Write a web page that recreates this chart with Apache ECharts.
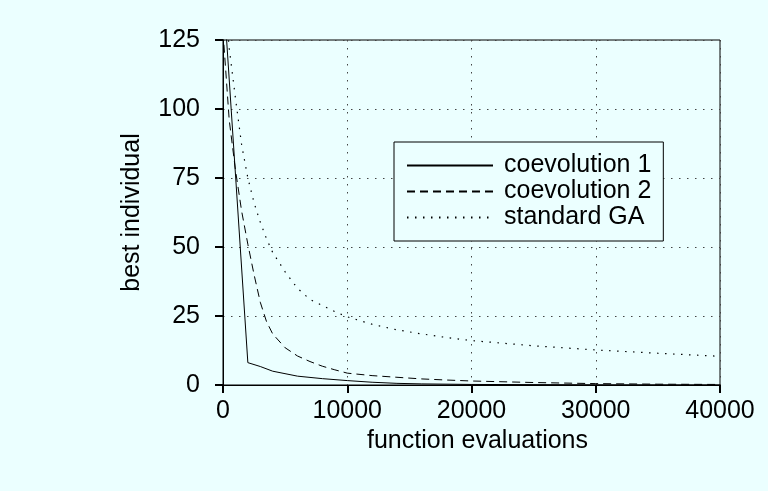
<!DOCTYPE html>
<html>
<head>
<meta charset="utf-8">
<script src="https://cdn.jsdelivr.net/npm/echarts@6/dist/echarts.min.js"></script>
<style>
  html, body { margin: 0; padding: 0; background: #ebffff; }
  #chart { width: 768px; height: 491px; }
</style>
</head>
<body>
<div id="chart"></div>
<script>
// function evaluations (x) and best individual (y)
const coevo1X = [0, 2000, 3000, 4000, 6000, 8000, 10000, 12000, 14000, 16000, 20000, 30000, 40000];
const coevo1Y = [145, 8.1, 6.7, 5.0, 3.2, 2.3, 1.6, 1.0, 0.6, 0.4, 0.2, 0.05, 0];

const sampleX = [0, 500, 1000, 1500, 2000, 2500, 3000, 3500, 4000, 5000, 6000, 7000, 8000, 9000, 10000,
  12000, 14000, 16000, 18000, 20000, 25000, 30000, 35000, 40000];
const coevo2Y = [128, 96, 78, 63, 51, 40, 30, 23, 18.5, 13.5, 10.5, 8.5, 6.8, 5.5, 4.3,
  3.4, 2.8, 2.2, 1.8, 1.45, 0.9, 0.5, 0.3, 0.2];
const standardY = [148, 122, 104, 87, 75, 66, 59, 53, 48, 41, 35, 31, 28.8, 26.6, 24.7,
  22, 20, 18.5, 17.2, 16.1, 14.2, 12.7, 11.5, 10.4];

const xTicks = [0, 10000, 20000, 30000, 40000];
const yTicks = [0, 25, 50, 75, 100, 125];

const bg = '#ebffff';
const font = 'Liberation Sans, Arial, sans-serif';

const pairs = (xs, ys) => xs.map((x, i) => [x, ys[i]]);

const chart = echarts.init(document.getElementById('chart'));

chart.setOption({
  animation: false,
  backgroundColor: bg,
  grid: {
    left: 223, right: 48, top: 40, bottom: 106,
    show: true,
    borderColor: '#000',
    borderWidth: 1,
  },
  legend: {
    orient: 'vertical',
    left: 394,
    top: 142,
    itemWidth: 86,
    itemHeight: 14,
    itemGap: 1,
    padding: [11, 12, 11, 12],
    borderColor: '#000',
    borderWidth: 1,
    borderRadius: 0,
    backgroundColor: bg,
    itemStyle: { opacity: 0 },
    textStyle: { fontSize: 25, color: '#000', fontFamily: font, padding: [0, 0, 0, 6] },
  },
  xAxis: {
    type: 'value',
    min: xTicks[0],
    max: xTicks[xTicks.length - 1],
    interval: 10000,
    name: 'function evaluations',
    nameLocation: 'middle',
    nameGap: 43,
    nameTextStyle: { fontSize: 25, color: '#000', fontFamily: font, padding: [0, 0, 0, 12] },
    axisLine: { lineStyle: { color: '#000', width: 1 } },
    axisTick: { show: true, inside: false, length: 8, lineStyle: { color: '#000', width: 2 } },
    axisLabel: {
      fontSize: 25, color: '#000', fontFamily: font, margin: 14,
      formatter: v => String(v),
    },
    splitLine: { show: true, lineStyle: { color: '#444', width: 1, type: [1.5, 6.5] } },
  },
  yAxis: {
    type: 'value',
    min: yTicks[0],
    max: yTicks[yTicks.length - 1],
    interval: 25,
    name: 'best individual',
    nameLocation: 'middle',
    nameRotate: 90,
    nameGap: 78,
    nameTextStyle: { fontSize: 25, color: '#000', fontFamily: font },
    axisLine: { show: true, lineStyle: { color: '#000', width: 1 } },
    axisTick: { show: true, inside: false, length: 8, lineStyle: { color: '#000', width: 2 } },
    axisLabel: { fontSize: 25, color: '#000', fontFamily: font, margin: 23 },
    splitLine: { show: true, lineStyle: { color: '#444', width: 1, type: [1.5, 6.5] } },
  },
  series: [
    {
      name: 'coevolution 1',
      type: 'line',
      data: pairs(coevo1X, coevo1Y),
      symbol: 'none',
      clip: true,
      lineStyle: { color: '#000', width: 1, type: 'solid' },
      itemStyle: { color: '#000' },
    },
    {
      name: 'coevolution 2',
      type: 'line',
      data: pairs(sampleX, coevo2Y),
      symbol: 'none',
      clip: true,
      lineStyle: { color: '#000', width: 1, type: [8, 5] },
      itemStyle: { color: '#000' },
    },
    {
      name: 'standard GA',
      type: 'line',
      data: pairs(sampleX, standardY),
      symbol: 'none',
      clip: true,
      lineStyle: { color: '#000', width: 1.2, type: [1.5, 6.5] },
      itemStyle: { color: '#000' },
    },
  ],
});
</script>
</body>
</html>
